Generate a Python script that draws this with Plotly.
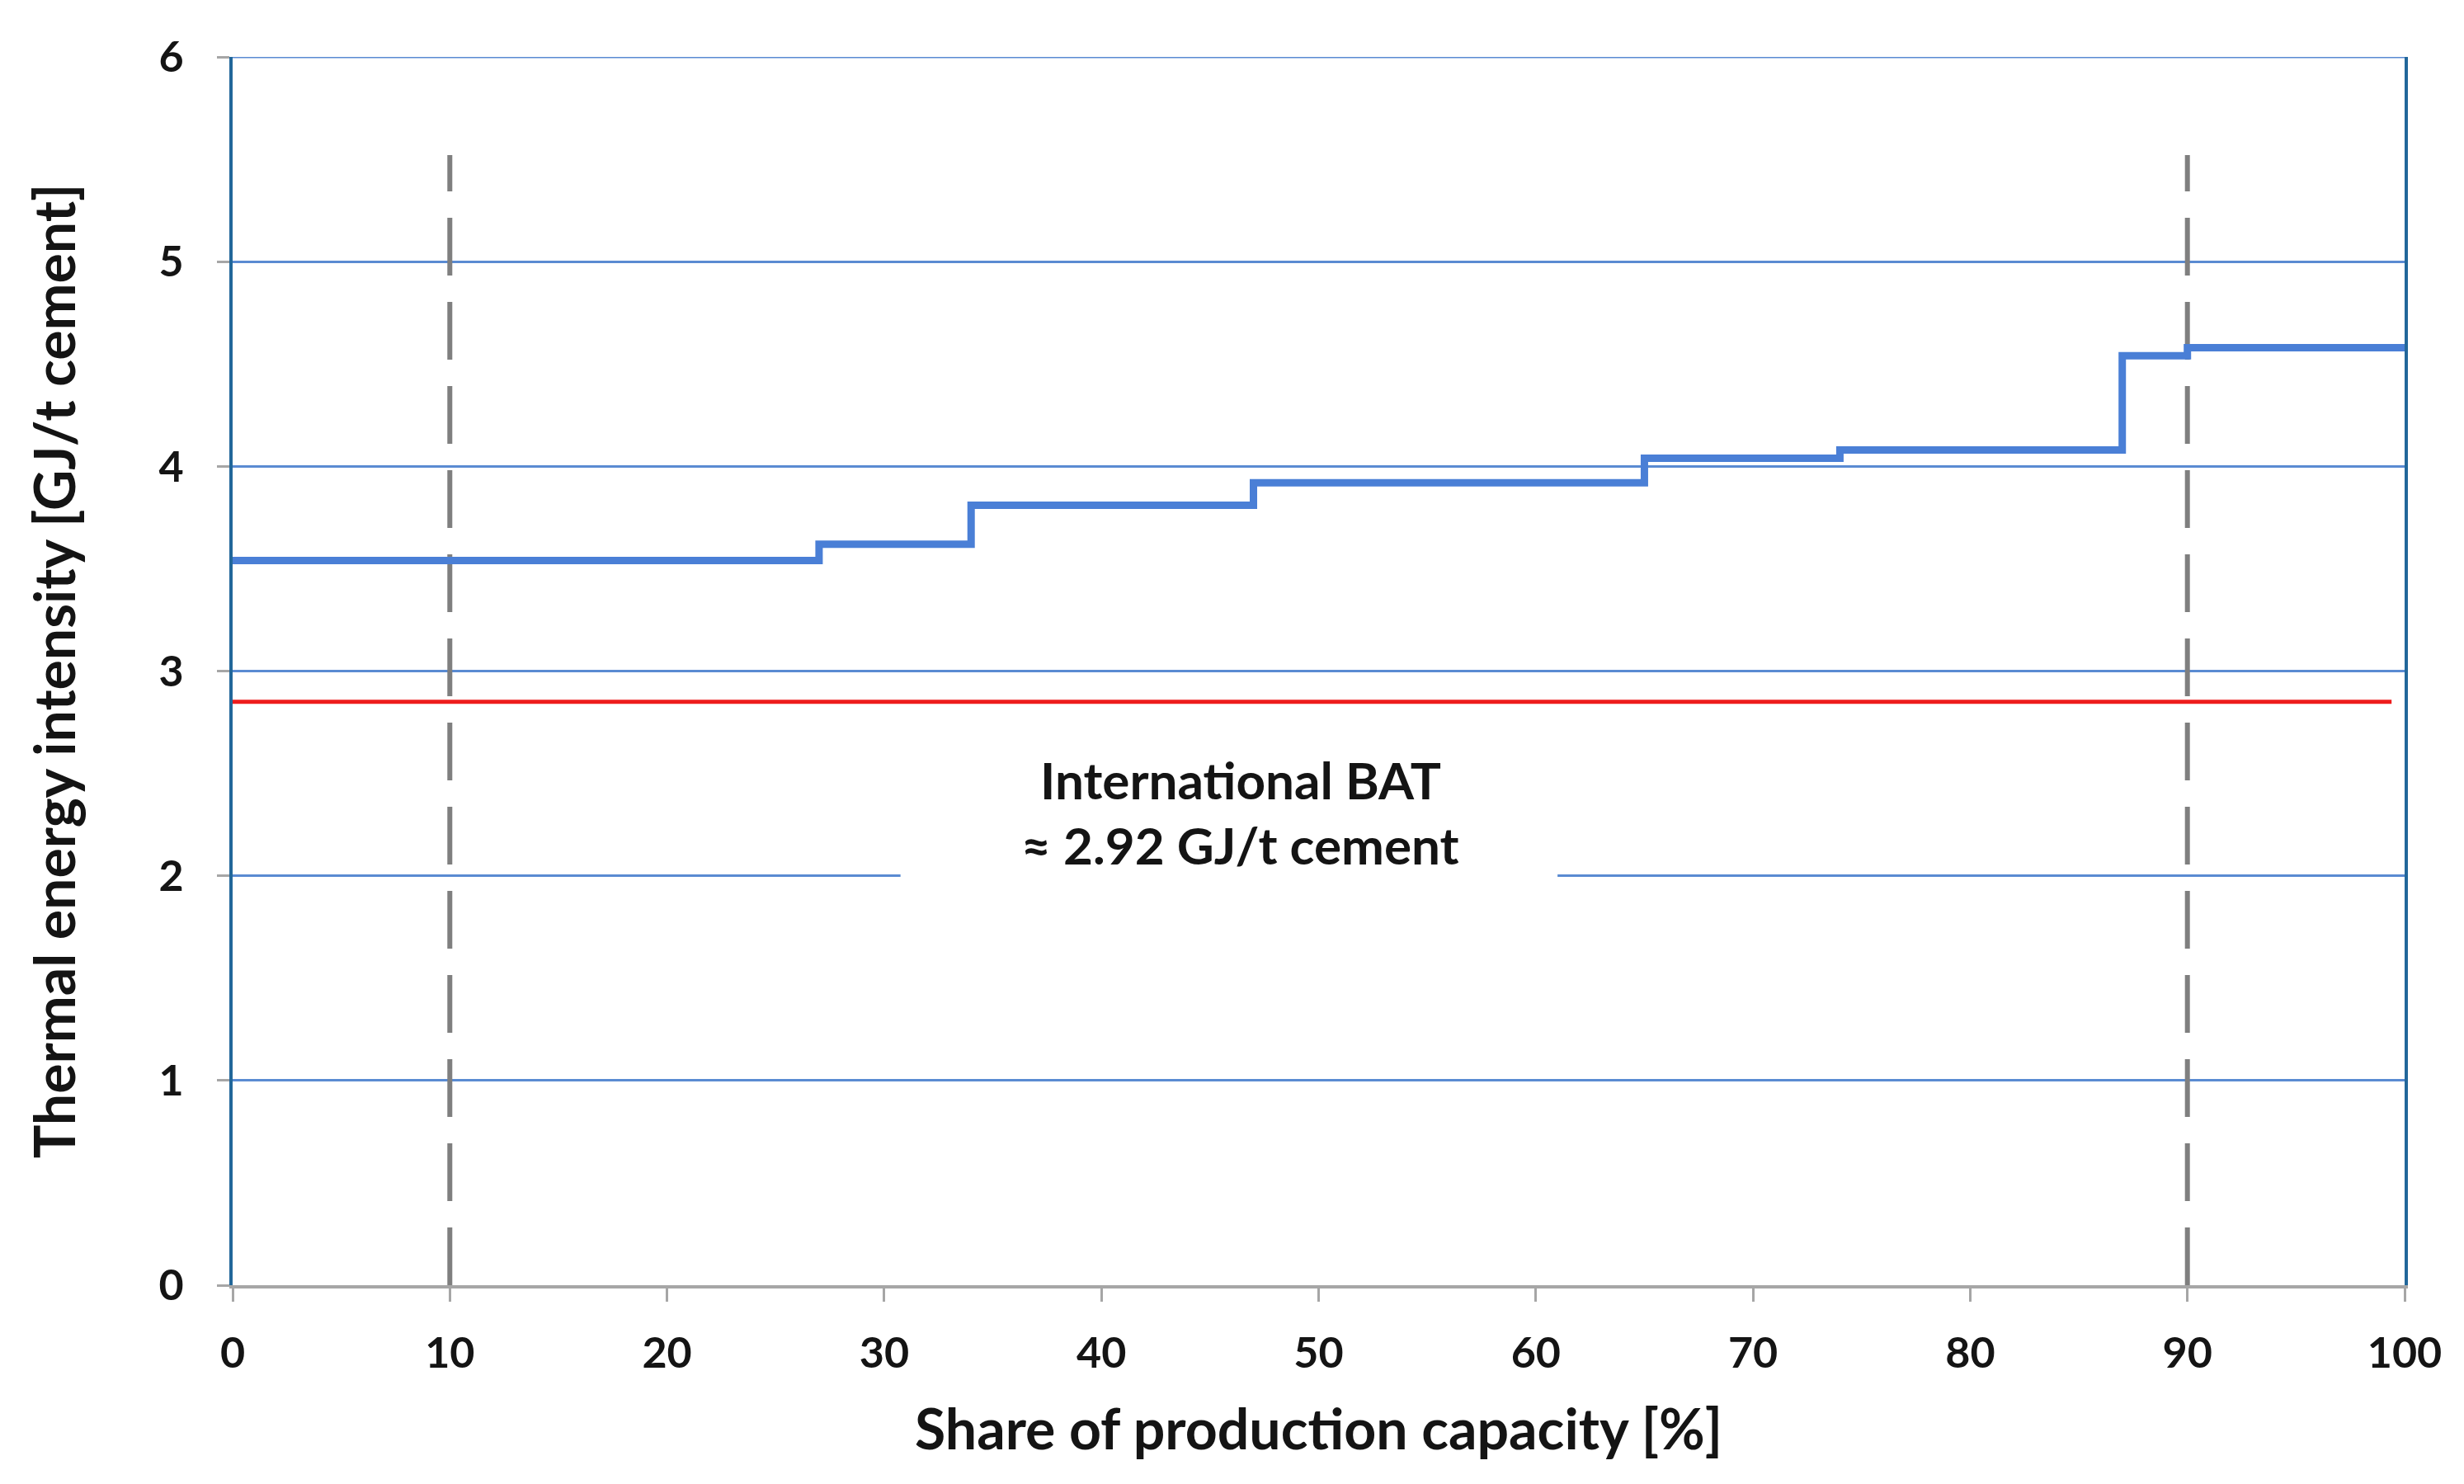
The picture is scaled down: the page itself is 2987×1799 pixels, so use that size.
import plotly.graph_objects as go

# ---- data ----
share_steps = [0, 27, 34, 47, 65, 74, 87, 90, 100]          # % of production capacity
intensity_steps = [3.54, 3.62, 3.81, 3.92, 4.04, 4.08, 4.54, 4.58, 4.58]  # GJ/t cement
bat_x = [-0.4, 99.4]
bat_value = 2.85
percentile_x = [10, 90]
percentile_top = 5.52
x_ticks = [0, 10, 20, 30, 40, 50, 60, 70, 80, 90, 100]
y_ticks = [0, 1, 2, 3, 4, 5, 6]
label_line1 = "International BAT"
label_line2 = "≈ 2.92 GJ/t cement"

FONT = "Lato"
TXT = "#141414"
GRID = "#5a8bd2"

fig = go.Figure()

# top gridline (at axis range edge)
fig.add_trace(go.Scatter(
    x=[x_ticks[0], x_ticks[-1]], y=[y_ticks[-1], y_ticks[-1]], mode="lines",
    line=dict(color=GRID, width=3), cliponaxis=False,
    hoverinfo="skip", showlegend=False))

# dashed percentile lines
for px in percentile_x:
    fig.add_trace(go.Scatter(
        x=[px, px], y=[0, percentile_top], mode="lines",
        line=dict(color="#7f7f7f", width=6, dash="70px,32px"),
        hoverinfo="skip", showlegend=False))

# BAT line
fig.add_trace(go.Scatter(
    x=bat_x, y=[bat_value, bat_value], mode="lines",
    line=dict(color="#ee1c1c", width=5), cliponaxis=False,
    hoverinfo="skip", showlegend=False))

# step curve
fig.add_trace(go.Scatter(
    x=share_steps, y=intensity_steps, mode="lines",
    line=dict(color="#4a7fd6", width=9, shape="hv"),
    showlegend=False))

# white box hiding gridline behind label
fig.add_shape(type="rect", xref="x", yref="y", x0=30.75, x1=61.0, y0=1.9, y1=2.1,
              fillcolor="white", line=dict(width=0), layer="above")

fig.add_annotation(x=46.4, y=2.47, xref="x", yref="y", text=label_line1, showarrow=False,
                   font=dict(family=FONT, size=62, color=TXT, weight="bold"))
fig.add_annotation(x=46.4, y=2.15, xref="x", yref="y", text=label_line2, showarrow=False,
                   font=dict(family=FONT, size=62, color=TXT, weight="bold"))

fig.update_layout(
    width=2987, height=1799,
    margin=dict(l=282, r=72, t=69, b=241),
    paper_bgcolor="white", plot_bgcolor="white",
    font=dict(family=FONT, color=TXT),
)

fig.update_xaxes(
    range=[0, 100], tickvals=x_ticks, ticktext=[str(v) for v in x_ticks],
    showgrid=False, zeroline=False,
    showline=True, linecolor="#a6a6a6", linewidth=4,
    ticks="outside", ticklen=16, tickwidth=3, tickcolor="#a6a6a6",
    ticklabelstandoff=18,
    tickfont=dict(family=FONT, size=52, color=TXT, weight="bold"),
    title=dict(text="Share of production capacity [%]", standoff=42,
               font=dict(family=FONT, size=68, color=TXT, weight="bold")),
)

fig.update_yaxes(
    range=[0, 6], tickvals=y_ticks, ticktext=[str(v) for v in y_ticks],
    showgrid=True, gridcolor=GRID, gridwidth=3, zeroline=False,
    showline=True, linecolor="#22679a", linewidth=4, mirror=True,
    ticks="outside", ticklen=15, tickwidth=3, tickcolor="#a6a6a6",
    ticklabelstandoff=30,
    tickfont=dict(family=FONT, size=52, color=TXT, weight="bold"),
    title=dict(text="Thermal energy intensity [GJ/t cement]", standoff=80,
               font=dict(family=FONT, size=68, color=TXT, weight="bold")),
)

fig.write_html("out.html")
